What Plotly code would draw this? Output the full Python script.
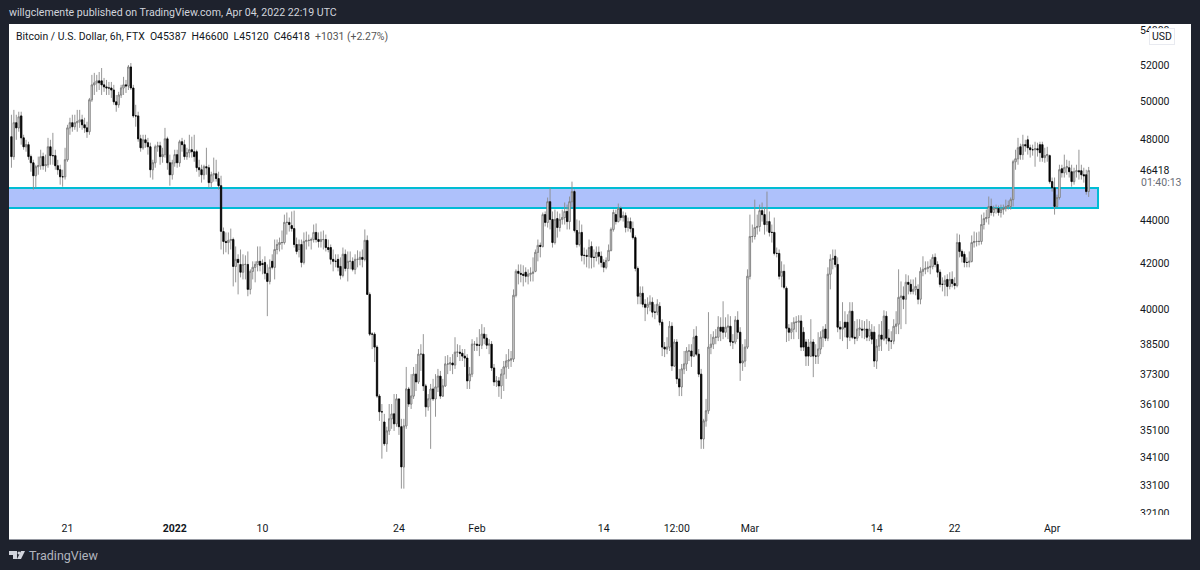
import math
import numpy as np
import pandas as pd
import plotly.graph_objects as go

opens = [
48140,47120,48870,48600,49230,48080,47620,47730,47120,46810,
46160,46610,46660,47120,46660,46710,47620,47170,47170,46660,
46460,46110,46110,46960,48600,48870,48660,48870,48920,49020,
48760,48600,48400,50090,50900,51010,51120,51120,50900,50790,
50730,50730,50620,49980,49820,50350,50730,50900,50840,51890,
50730,49230,49230,48030,47570,47980,47830,47620,46460,46810,
47620,47670,47120,47220,48030,46810,46210,46810,47220,46810,
47880,47730,47120,47320,47470,47370,47370,46560,46460,46210,
46610,46560,45820,46210,46260,46020,45670,
43470,43010,42960,43060,43100,41870,42190,41960,41610,41960,41960,40850,41650,41830,41960,42100,42000,42050,41560,41200,
42100,41830,42640,42870,42960,42960,43900,43900,43750,43610,42870,42640,42870,42050,43010,43060,43060,43100,43430,43100,
43010,43100,43100,42730,42730,42190,42100,42190,41870,41470,42420,41780,42100,42100,41740,42190,42190,42280,42190,43060,
40630,38930,38930,38390,36420,35810,35420,34600,35080,35540,35730,35350,36310,35240,33750,35270,36700,36110,36420,37290,
36980,38100,38100,36820,36000,36310,36700,36310,36780,37210,36420,36820,37700,37700,37740,37660,38180,38180,38140,38020,
37940,37020,37290,38510,38510,38470,38470,38930,38760,38470,38510,37540,36980,37020,36820,37290,37580,37820,37860,37900,40590,
41650,41560,41520,41610,41430,41520,41560,41650,42510,42830,42780,44270,43900,44890,44040,42960,44080,43660,44040,44130,
44420,43940,44890,45380,43520,42870,43430,42370,42370,42330,42780,42280,42280,42510,42330,42050,41830,42140,42600,43570,
44270,43940,44560,44130,44220,43660,43940,43610,43190,41780,40550,40680,40200,40070,40200,40290,39860,
39860,40110,39430,38390,38310,38390,39260,37620,38600,37100,
36780,37500,37700,38230,38230,38020,38850,38100,37290,34780,
35460,35850,38390,38510,38800,38800,39220,39220,39010,39220,
39260,38600,38600,39520,39010,37740,37820,38390,41430,43240,
43240,43660,43710,44460,44270,43800,43940,43430,43430,42460,
42460,41430,41650,40900,39180,39010,39140,39430,39430,39480,
39010,38600,38390,38020,38600,38020,38020,38310,38800,39140,
38760,41520,42190,42330,41960,39220,39140,39430,39430,38800,
39900,38800,38760,39140,
39140,39100,39140,38850,39010,39010,37820,38430,38890,38720,
39690,38760,38640,38640,39260,39350,40500,40550,40420,41160,
41070,40760,40850,40850,40420,41650,41740,41780,41830,41870,
42280,41960,41610,41070,41070,41290,40980,41290,41110,41020,
42960,42550,42420,42050,42050,42100,42960,43010,43010,43010,
43800,44080,44130,44660,44370,44560,44560,44370,44510,44560,
44660,44660,44990,46860,47010,47620,47220,47730,47980,47570,
47470,47470,47520,47730,47730,47070,47170,47170,45870,45570,
44660,45090,46510,46310,46560,46560,46360,45870,46360,46410,
46410,46210,46210,45387]

highs = [
49290,49550,49290,49450,49450,48240,47980,47880,47220,46960,
46710,47120,47470,47320,47220,48080,47980,48340,47470,46960,
46710,46460,47570,48760,49130,49290,49290,49550,49550,49290,
49130,48920,50190,51450,51560,51450,51610,51830,51280,51170,
51060,51060,50900,50350,50520,50900,51340,51170,52000,52110,
50900,49820,49450,48240,48240,48240,48080,47830,46960,47730,
47880,47880,47570,48600,48140,47220,46960,47470,47470,47980,
48080,47980,47570,48240,48140,48240,47470,46960,46710,46710,
47570,46710,46360,47070,46960,46360,46160,
43660,43430,43430,43610,43190,42780,42420,42640,42420,42370,42550,41740,42100,42100,42780,42780,42190,42330,41960,42190,
42420,43100,43100,43190,43520,44270,44370,44130,44420,44460,43190,43100,43100,43430,43470,43330,43190,43800,43850,43430,
43470,43520,43330,43100,42870,42640,42420,42420,42280,42730,42640,42550,42550,42280,42420,42600,42550,42640,43570,43290,
40720,39010,39010,38470,36500,36110,35730,35240,36110,36110,36500,36500,36310,35540,35540,37580,36780,37290,37580,37700,
38310,38510,38930,36900,36500,36900,37100,37290,37500,37420,37100,38020,38060,37980,38100,38800,38510,38470,38310,38310,
38100,37580,38720,38640,38800,39140,39350,39220,38930,38720,38640,37700,37210,37170,37500,37820,38100,38310,38230,40850,41740,
41960,41960,41920,41830,41740,41830,42280,42640,43100,42960,44370,44420,45090,45570,44420,44510,44420,44320,44510,44850,
44750,45140,45870,45480,44040,43990,43800,42730,42640,43100,43010,42640,42780,42780,42550,42190,42280,42870,43660,44510,
44510,44800,44660,44420,44370,44130,44130,43940,43290,41870,40980,40980,40420,40500,40590,40500,40200,
40420,40290,39560,38600,38800,39480,39430,38720,38720,37500,
37700,38230,38390,38510,38510,39140,39260,38310,37500,35540,
36310,39860,38930,39050,39140,39690,39640,40330,39640,39770,
39690,38930,39690,39900,39220,38510,38720,41740,44270,43800,
44990,44270,44750,44850,44610,45380,44420,43800,44130,42730,
42640,42100,41960,40980,39350,39430,39640,39690,39730,39730,
39220,38720,38720,39560,38720,38510,39010,39050,39260,39350,
41830,42420,42640,42640,42280,39480,40290,39900,39770,40290,
40290,39480,39560,39560,
39520,39480,39560,39480,39350,39260,38720,39350,39480,39940,
39900,39140,39050,39560,39900,41740,41200,40980,41520,41470,
41290,41290,41380,41070,41830,42330,42100,42100,42190,42420,
42460,42100,41740,41380,41470,41520,41610,41650,41380,43380,
43330,42640,42550,42280,42550,43290,43470,43430,43470,44270,
44370,44510,45140,45040,44700,44750,44700,44750,44750,44990,
44940,45090,46960,47470,48080,47780,48240,47980,48190,47730,
47730,47880,47830,47880,47880,47570,47620,47220,46070,46070,
45230,46710,46710,47220,46960,46910,46710,46560,46710,47470,
46710,46560,46460,46600]

lows = [
46560,46960,47980,48400,47730,47470,47370,46960,46360,45480,
45570,46210,46460,46460,46360,46560,46710,46710,46460,46210,
45720,45620,45970,46860,48240,48400,48500,48400,48600,48500,
48340,48080,48240,49980,50350,50520,50620,50350,50520,50350,
50350,50190,49820,49450,49660,50190,50350,50460,50620,50620,
49130,48660,47880,47370,47470,47570,47220,46070,45970,46560,
47370,46710,46810,47070,46460,45670,45970,46610,46560,46610,
47370,46960,46960,47070,47070,46860,46360,46110,45820,45970,
46210,45570,45570,45870,45870,45480,42640,
42420,42510,42420,42640,40980,41160,40630,41380,41290,41290,40550,40630,41290,41160,41650,41650,41520,41290,39690,41070,
41740,41290,42420,42550,42640,42870,43330,43470,43470,42730,42420,42280,41830,41960,42640,42780,42640,42960,42960,42730,
42730,42640,42550,42510,41960,41650,41830,41650,41290,41380,41650,41200,41740,41650,41520,41830,41920,41830,42100,40630,
38850,38310,37780,36350,35460,34050,34520,34300,34930,35160,35080,35240,34930,32970,32970,35160,36000,35920,36310,36620,
36900,37420,36620,35620,35850,34410,36230,35620,36580,36310,36390,36780,37290,37420,37290,37500,37980,37820,37820,37580,
36700,36700,37170,38230,38230,38020,38310,38510,38310,38100,37420,36820,36780,36390,36310,36620,37100,37500,37580,37780,40500,
41070,41160,40980,41160,41070,41200,41200,41610,42100,42280,42730,43710,43660,43570,42730,42870,43190,43470,43800,43800,
43570,43570,44610,43430,42730,42780,42100,41960,41830,41780,41780,41830,42100,41960,41830,41610,41740,42100,42550,43470,
43800,43900,43990,43940,43430,43470,43430,43100,41650,40200,40200,40070,39480,39770,39900,39640,39560,
39730,39300,38020,37980,38100,38230,37420,37580,36900,36420,
36420,37290,37420,37820,37580,37980,38020,37170,34410,34410,
35240,35730,38100,38310,38510,38640,38640,38720,38800,38720,
38430,38310,38510,38720,37020,37420,37580,38310,41290,42960,
43100,43330,43470,43940,43330,43470,43240,42960,42370,42280,
41290,40940,40850,38600,38640,38720,38720,39010,38720,38230,
38230,37620,37620,37980,37170,37700,37700,38100,38390,38640,
38640,40850,41740,41830,39010,38720,38640,38800,38310,38640,
38720,38510,38640,38850,
38760,38720,38640,38640,38510,37580,37500,38230,38230,38640,
38510,38230,38310,38510,38930,38930,39140,39990,39350,40630,
40630,40630,40590,40200,40200,41430,41520,41610,41520,41740,
41830,41380,40940,40760,40550,40550,40850,40940,40850,40940,
42280,42050,41830,41830,41830,42050,42730,42780,42830,42870,
43570,43900,43800,44220,44180,44320,44220,44130,44270,44420,
44510,44510,44660,46460,46710,46960,46960,47370,47220,47070,
47170,46610,47120,46860,46860,46810,46860,45770,45380,44270,
44610,44990,46070,46070,46210,46070,45620,45720,46070,45970,
45970,45820,45230,45120]

closes = [
47120,48870,48600,49180,48080,47620,47730,47120,46810,46160,
46610,46660,47120,46660,46710,47620,47170,47170,46660,46460,
46110,46110,46960,48600,48870,48660,48870,48920,49020,48760,
48600,48400,50090,50900,51010,51120,51010,50900,50790,50730,
50730,50620,49980,49820,50350,50730,50900,50840,51890,50730,
49230,49230,48030,47570,47980,47830,47620,46460,46810,47620,
47670,47120,47220,48030,46810,46210,46810,47220,46810,47880,
47730,47120,47320,47470,47370,47120,46560,46460,46210,46610,
46560,45820,46210,46260,46020,45670,43480,
43010,42960,43060,43100,41870,42190,42050,41610,41960,41960,40850,41650,41830,41960,42100,41920,41960,41560,41200,41830,
41830,42640,42870,42960,42960,43900,43900,43800,43610,42870,42550,42870,42050,43010,43060,43060,43100,43430,43100,43010,
43100,43100,42730,42640,42190,42100,42100,41830,41470,42420,41780,42100,42100,41740,42190,42190,42280,42190,43060,40630,
38930,38930,38390,36420,35810,35810,34600,35080,35540,35730,35350,36310,35240,33750,35270,36700,36110,36420,37290,36980,
38100,38100,36820,36000,36310,36700,36310,36780,37210,36420,36820,37700,37700,37740,37660,38180,38180,38140,38020,37940,
37020,37290,38510,38510,38470,38470,38930,38760,38470,38510,37540,36980,37020,36820,37290,37580,37820,37860,37900,40590,41650,
41560,41520,41470,41430,41520,41560,41610,42510,42830,42780,44270,43900,44890,44040,42960,44040,43660,44040,44130,44420,
43940,44890,45380,43520,42870,43430,42370,42370,42330,42730,42280,42280,42510,42330,42050,41830,42140,42600,43570,44370,
43940,44560,44130,44220,43660,43940,43610,43190,41780,40550,40680,40200,40070,40200,40290,39860,39860,
40200,39430,38390,38310,38390,39260,37620,38600,37100,36780,
37500,37700,38230,38230,38020,38800,38100,37290,34780,35460,
35850,38390,38510,38800,38800,39220,39050,39010,39220,39260,
38600,38600,39520,39010,37740,37820,38390,41430,43240,43240,
43660,43710,44460,44270,43800,43940,43430,43430,42460,42460,
41430,41650,40940,39180,39010,39140,39430,39430,39480,38390,
38390,38020,38020,38600,38020,38020,38310,38800,39100,38760,
41520,42190,42230,41960,39220,39140,39220,39220,38800,39900,
38800,38760,39140,39180,
39100,39140,38800,39140,38720,37820,38430,38890,38720,39690,
38760,38640,38640,39260,39350,40500,40550,40420,41160,41070,
40760,40850,40980,40420,41650,41740,41780,41830,41870,42280,
41960,41610,41070,41070,41250,40980,41290,41110,41020,42960,
42550,42330,42050,42050,42100,42960,43010,43010,43010,43800,
44080,44130,44660,44370,44560,44560,44370,44510,44560,44660,
44700,44990,46860,47010,47570,47220,47730,47670,47570,47470,
47470,47520,47470,47320,47070,47170,47220,45870,45570,44660,
45090,46460,46310,46560,46610,46360,45870,46360,46410,46360,
46210,46160,45380,46418]

last_bar = "2022-04-04 18:00"
bar_freq = "6h"
zone_top = 45560
zone_bottom = 44590
zone_start = "2021-12-01"
zone_end = "2022-04-05 17:00"
price_ticks = [32100,33100,34100,35100,36100,37300,38500,40000,42000,44000,46418,48000,50000,52000,54000]
date_tick_vals = ["2021-12-21","2022-01-01","2022-01-10","2022-01-24","2022-02-01","2022-02-14","2022-02-21 12:00","2022-03-01","2022-03-14","2022-03-22","2022-04-01"]
date_tick_text = ["21","<b>2022</b>","10","24","Feb","14","12:00","Mar","14","22","Apr"]

n = {len(opens), len(highs), len(lows), len(closes)}
if len(n) != 1 or 443 not in n:
    raise SystemExit(f"lengths o{len(opens)} h{len(highs)} l{len(lows)} c{len(closes)}")

times = pd.date_range(end=last_bar, periods=len(closes), freq=bar_freq)
body_top = np.maximum(opens, closes)
body_bot = np.minimum(opens, closes)

# layout in pixels
W, H = 1200, 570
L, R, T, B = 9, 1136, 24, 516
def px(x): return (x - L) / (R - L)
def py(y): return (B - y) / (B - T)

fig = go.Figure()
fig.add_trace(go.Candlestick(
    x=times, open=opens, high=highs, low=lows, close=closes,
    increasing=dict(line=dict(color="#8a8a8a", width=0.9), fillcolor="rgba(0,0,0,0)"),
    decreasing=dict(line=dict(color="#8a8a8a", width=0.9), fillcolor="rgba(0,0,0,0)"),
    whiskerwidth=0, hoverinfo="skip", showlegend=False))
fig.add_trace(go.Candlestick(
    x=times, open=opens, close=closes, high=body_top, low=body_bot,
    increasing=dict(line=dict(color="#6e6e6e", width=0.7), fillcolor="#ffffff"),
    decreasing=dict(line=dict(color="#000000", width=0.7), fillcolor="#000000"),
    whiskerwidth=0, hoverinfo="skip", showlegend=False))

shapes = [
    dict(type="rect", xref="paper", yref="paper", x0=px(9), x1=px(1191), y0=py(539), y1=py(24),
         fillcolor="#ffffff", line=dict(width=0), layer="below"),
    dict(type="line", xref="paper", yref="paper", x0=px(9), x1=px(1191), y0=py(539.5), y1=py(539.5),
         line=dict(color="#9598a1", width=1), layer="below"),
    dict(type="rect", xref="x", yref="y", x0=zone_start, x1=zone_end, y0=zone_bottom, y1=zone_top,
         fillcolor="#aec1fb", line=dict(color="#00bcd4", width=2), layer="below"),
    # TradingView logo
    dict(type="path", xref="paper", yref="paper", fillcolor="#d1d4dc", line=dict(width=0),
         path=f"M {px(9)} {py(551)} L {px(17)} {py(551)} L {px(17)} {py(559)} L {px(13)} {py(559)} L {px(13)} {py(555)} L {px(9)} {py(555)} Z"),
    dict(type="circle", xref="paper", yref="paper", fillcolor="#d1d4dc", line=dict(width=0),
         x0=px(17.5), x1=px(20.5), y0=py(554.5), y1=py(551.5)),
    dict(type="path", xref="paper", yref="paper", fillcolor="#d1d4dc", line=dict(width=0),
         path=f"M {px(21)} {py(551)} L {px(25)} {py(551)} L {px(21)} {py(559)} L {px(17)} {py(559)} Z"),
]

def note(x, y, text, size, color, **kw):
    a = dict(xref="paper", yref="paper", x=px(x), y=py(y), text=text, showarrow=False,
             xanchor="left", yanchor="middle", borderpad=0, borderwidth=0,
             font=dict(family="Roboto", size=size, color=color))
    a.update(kw)
    return a

annotations = [
    note(9, 13, "willgclemente published on TradingView.com, Apr 04, 2022 22:19 UTC", 10.6, "#d1d4dc"),
    note(16, 36, 'Bitcoin / U.S. Dollar, 6h, FTX&nbsp;&nbsp;O45387&nbsp;&nbsp;H46600&nbsp;&nbsp;L45120&nbsp;&nbsp;C46418&nbsp;&nbsp;<span style="color:#555">+1031 (+2.27%)</span>', 10.45, "#131722"),
    note(1141, 183, "01:40:13", 10.5, "#6a6d78"),
    note(29, 555, "TradingView", 12.5, "#b2b5be"),
    note(1161.5, 37, "USD", 10.5, "#131722", xanchor="center", bgcolor="#ffffff", bordercolor="#e8eaf0",
         borderwidth=1, width=24, height=15),
    note(1147.5, 525, "&nbsp;", 10, "#ffffff", xanchor="center", bgcolor="#ffffff", width=85, height=21),
]

fig.update_layout(
    width=W, height=H, autosize=False,
    margin=dict(l=L, r=W - R, t=T, b=H - B, pad=0),
    paper_bgcolor="#1e222d", plot_bgcolor="#ffffff",
    showlegend=False, shapes=shapes, annotations=annotations,
    boxgap=0.25,
    font=dict(family="Roboto", size=11, color="#131722"),
    xaxis=dict(type="date", range=["2021-12-15 00:00", "2022-04-09 14:30"],
               rangeslider=dict(visible=False), showgrid=False, zeroline=False, showline=False,
               tickmode="array", tickvals=date_tick_vals, ticktext=date_tick_text, ticks="",
               tickangle=0, tickfont=dict(family="Roboto", size=10.5, color="#131722"), ticklabelstandoff=4),
    yaxis=dict(type="log", side="right",
               range=[math.log10(32013), math.log10(54344)],
               showgrid=False, zeroline=False, showline=False,
               tickmode="array", tickvals=price_ticks, ticktext=[str(v) for v in price_ticks], ticks="",
               tickfont=dict(family="Roboto", size=10.5, color="#131722"), ticklabelstandoff=3),
)
fig.write_html("out.html", config=dict(displayModeBar=False),
               post_script="document.body.style.margin='0';document.body.style.overflow='hidden';document.body.style.background='#1e222d';")
